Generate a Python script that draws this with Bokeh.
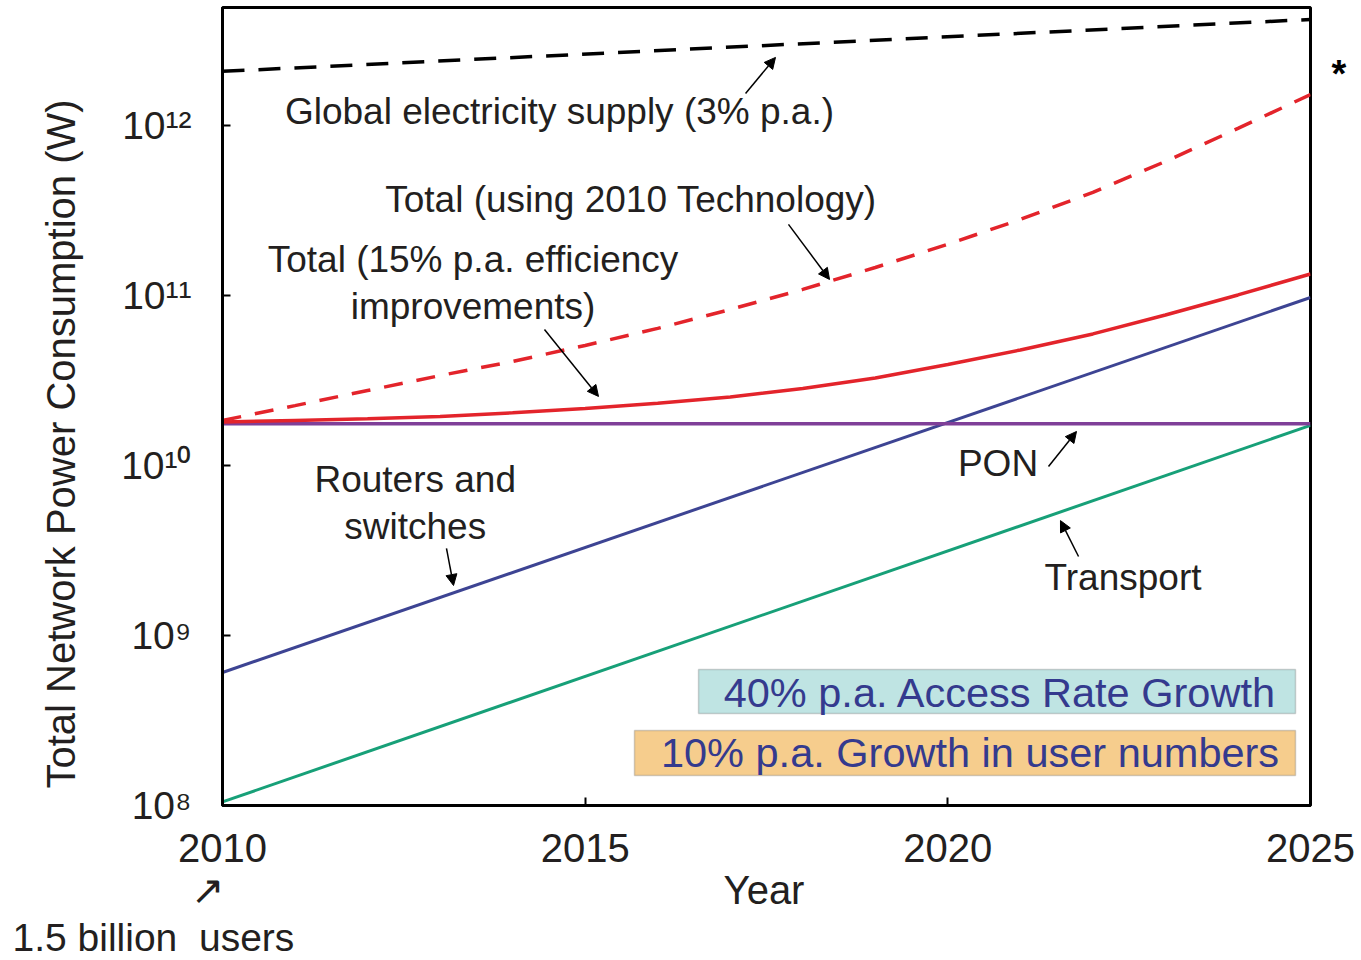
from bokeh.plotting import figure
from bokeh.models import (Range1d, FixedTicker, CustomJSTickFormatter, Label, Title,
                          Arrow, NormalHead, BoxAnnotation, LogAxis)
from bokeh.embed import file_html
from bokeh.resources import INLINE

# ---------------- data ----------------
years_ends = [2010, 2025]
years = [2010, 2011, 2012, 2013, 2014, 2015, 2016, 2017,
         2018, 2019, 2020, 2021, 2022, 2023, 2024, 2025]

global_supply = [2.08e12, 4.20e12]                 # dashed black
total_2010_tech = [1.84e10, 2.25e10, 2.76e10, 3.38e10, 4.09e10, 5.08e10,
                   6.40e10, 8.27e10, 1.085e11, 1.46e11, 2.00e11, 2.80e11,
                   4.04e11, 6.14e11, 9.60e11, 1.52e12]  # dashed red
total_efficiency = [1.80e10, 1.84e10, 1.88e10, 1.94e10, 2.04e10, 2.16e10,
                    2.32e10, 2.53e10, 2.84e10, 3.27e10, 3.93e10, 4.78e10,
                    5.94e10, 7.68e10, 1.007e11, 1.338e11]  # solid red
routers = [6.06e8, 9.73e10]                        # blue
transport = [1.05e8, 1.72e10]                      # green
pon = [1.76e10, 1.76e10]                           # purple

x_ticks = [2010, 2015, 2020, 2025]
y_ticks = [1e8, 1e9, 1e10, 1e11, 1e12]

FONT = "Liberation Sans"
TXT = "#231f20"
EM = "\u2003"
NB = "\u00a0"

p = figure(width=1355, height=958,
           x_range=Range1d(2010, 2025), y_range=Range1d(1e8, 4.94e12),
           y_axis_type="log", output_backend="svg", toolbar_location=None,
           min_border_left=222, min_border_right=45,
           min_border_top=7, min_border_bottom=153)
p.grid.visible = False
p.outline_line_color = "black"
p.outline_line_width = 3
p.background_fill_color = "white"
p.border_fill_color = "white"

for ax in (p.xaxis, p.yaxis):
    ax.axis_line_width = 3
    ax.axis_line_color = "black"
    ax.major_tick_in = 8
    ax.major_tick_out = 0
    ax.major_tick_line_width = 2
    ax.minor_tick_line_color = None
    ax.major_label_text_font = FONT
    ax.major_label_text_color = TXT

p.xaxis.ticker = FixedTicker(ticks=x_ticks)
p.xaxis.major_label_text_font_size = "40px"
p.xaxis.major_label_standoff = 28

p.yaxis.ticker = FixedTicker(ticks=y_ticks)
p.yaxis.major_label_text_font_size = "39px"
p.yaxis.major_label_standoff = 31
p.yaxis.formatter = CustomJSTickFormatter(code="""
const sup = ["\\u2070","\\u00b9","\\u00b2","\\u00b3","\\u2074","\\u2075","\\u2076","\\u2077","\\u2078","\\u2079"];
const e = Math.round(Math.log10(tick)).toString();
return "10" + e.split("").map(c => sup[parseInt(c)]).join("");
""")

# y axis title (starts a little above the bottom of the frame, like the reference)
p.add_layout(Title(text="Total Network Power Consumption (W)", align="left", offset=17,
                   standoff=72, text_font=FONT, text_font_size="40px",
                   text_font_style="normal", text_color=TXT), "left")

# x axis title line: the small arrow pointing at 2010, then "Year"
p.add_layout(Title(text="\u2197" + EM * 12 + NB + "\u2009" + "Year", align="left", offset=-32,
                   standoff=3, text_font=FONT, text_font_size="40px",
                   text_font_style="normal", text_color=TXT), "below")
# "1.5 billion users" note
p.add_layout(Title(text="1.5 billion" + NB + " users", align="left", offset=-210, standoff=0,
                   text_font=FONT, text_font_size="39px", text_font_style="normal",
                   text_color=TXT), "below")

# "*" marker right of the frame, placed through a second log axis
star_axis = LogAxis(ticker=FixedTicker(ticks=[2.02e12]),
                    formatter=CustomJSTickFormatter(code="return '*';"),
                    axis_line_color=None, major_tick_line_color=None,
                    minor_tick_line_color=None, major_label_standoff=15,
                    major_label_text_font=FONT, major_label_text_font_size="38px",
                    major_label_text_font_style="bold", major_label_text_color="black")
p.add_layout(star_axis, "right")

# ---------------- lines ----------------
p.line(years_ends, transport, line_color="#17a078", line_width=3)
p.line(years_ends, routers, line_color="#3d4493", line_width=3)
p.line(years_ends, pon, line_color="#7f3f98", line_width=3.5)
p.line(years, total_2010_tech, line_color="#e3242b", line_width=3.5, line_dash="19 14")
p.line(years, total_efficiency, line_color="#e3242b", line_width=3.5)
p.line(years_ends, global_supply, line_color="black", line_width=3.5, line_dash="22 14")

# ---------------- annotations ----------------
def lab(x, y, text, size="37px", color=TXT):
    p.add_layout(Label(x=x, y=y, text=text, text_font=FONT, text_font_size=size,
                       text_color=color, text_align="center", text_baseline="middle",
                       text_line_height=1.15))

def arr(x0, y0, x1, y1):
    p.add_layout(Arrow(end=NormalHead(size=11, fill_color="black", line_color="black"),
                       x_start=x0, y_start=y0, x_end=x1, y_end=y1,
                       line_color="black", line_width=1.5))

lab(2014.646, 1.216e12, "Global electricity supply (3% p.a.)")
arr(2017.211, 1.542e12, 2017.624, 2.512e12)

lab(2015.632, 3.672e11, "Total (using 2010 Technology)")
arr(2017.803, 2.617e11, 2018.369, 1.242e11)

lab(2013.454, 1.177e11, "Total (15% p.a. efficiency\nimprovements)")
arr(2014.439, 6.31e10, 2015.184, 2.547e10)

lab(2012.657, 6.018e9, "Routers and\nswitches")
arr(2013.088, 3.25e9, 2013.185, 1.968e9)

lab(2020.692, 1.027e10, "PON")
arr(2021.388, 9.86e9, 2021.774, 1.585e10)

lab(2022.415, 2.194e9, "Transport")
arr(2021.802, 2.915e9, 2021.553, 4.74e9)

p.add_layout(BoxAnnotation(left=2016.563, right=2024.793, bottom=3.478e8, top=6.31e8,
                           fill_color="#bfe4e3", fill_alpha=1.0,
                           line_color="#6b6b6b", line_width=1.5))
lab(2020.726, 4.63e8, "40% p.a. Access Rate Growth", size="41.5px", color="#343a8e")

p.add_layout(BoxAnnotation(left=2015.68, right=2024.793, bottom=1.5e8, top=2.762e8,
                           fill_color="#f6cd8d", fill_alpha=1.0,
                           line_color="#6b6b6b", line_width=1.5))
lab(2020.306, 2.05e8, "10% p.a. Growth in user numbers", size="41.5px", color="#343a8e")

open("out.html", "w", encoding="utf-8").write(file_html(p, INLINE))
